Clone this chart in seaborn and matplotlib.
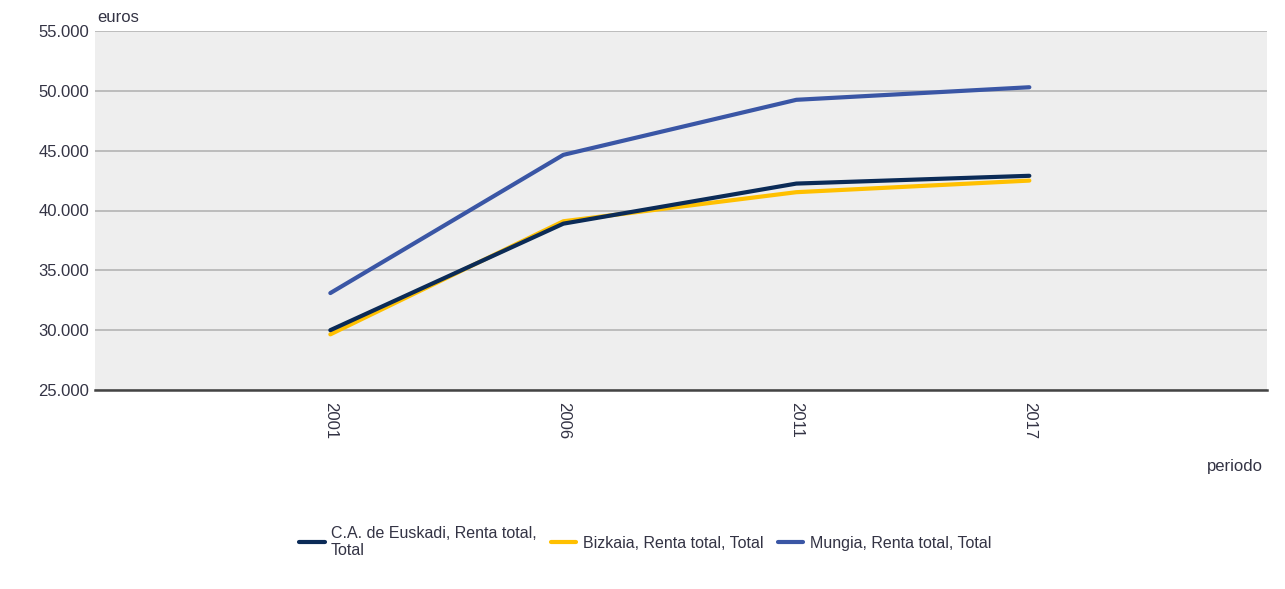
import matplotlib
matplotlib.use("Agg")
import matplotlib.pyplot as plt
import seaborn as sns
import pandas as pd

periods = ["2001", "2006", "2011", "2017"]
euskadi = [30000, 38900, 42250, 42900]
bizkaia = [29650, 39100, 41530, 42500]
mungia = [33100, 44650, 49250, 50300]
series_names = ["C.A. de Euskadi, Renta total,\nTotal",
                "Bizkaia, Renta total, Total",
                "Mungia, Renta total, Total"]
colors = ["#0b2b57", "#ffc000", "#3a56a5"]
yticks = [25000, 30000, 35000, 40000, 45000, 50000, 55000]
ytick_labels = ["25.000", "30.000", "35.000", "40.000", "45.000", "50.000", "55.000"]

rows = []
for name, vals in zip(series_names, [euskadi, bizkaia, mungia]):
    for p, v in zip(periods, vals):
        rows.append({"periodo": p, "euros": v, "serie": name})
df = pd.DataFrame(rows)

sns.set_theme(style="white")
plt.rcParams["font.family"] = ["Liberation Sans", "DejaVu Sans"]

fig = plt.figure(figsize=(12.85, 5.89), dpi=100)
ax = fig.add_axes([95/1285, 1-390/589, (1267-95)/1285, (390-31)/589])
ax.set_facecolor("#eeeeee")

sns.lineplot(data=df, x="periodo", y="euros", hue="serie", palette=colors,
             hue_order=series_names, linewidth=3, ax=ax, legend=False,
             sort=False)
# dark series drawn above the yellow one, as in the reference
ax.lines[0].set_zorder(3)

ax.set_xlim(-1.01, 4.02)
ax.set_ylim(25000, 55000)
ax.set_yticks(yticks)
ax.set_yticklabels(ytick_labels)
ax.yaxis.grid(True, color="#b4b4b4", linewidth=1.2)
ax.set_axisbelow(True)
for s in ["top", "right", "left"]:
    ax.spines[s].set_visible(False)
ax.spines["bottom"].set_color("#444444")
ax.spines["bottom"].set_linewidth(1.8)
ax.tick_params(axis="y", length=0, pad=4, labelsize=12, labelcolor="#333344")
ax.tick_params(axis="x", length=0, pad=9, labelsize=12, labelcolor="#333344")
ax.set_xticks(range(len(periods)))
ax.set_xticklabels(periods, rotation=-90)
ax.set_xlabel("")
ax.set_ylabel("")

fig.text(97/1285, 1-17/589, "euros", fontsize=12, color="#333344", va="center", ha="left")
fig.text(1263/1285, 1-467/589, "periodo", fontsize=12, color="#333344", va="center", ha="right")

from matplotlib.lines import Line2D
handles = [Line2D([0], [0], color=c, linewidth=3) for c in colors]
fig.legend(handles, series_names, loc="center", bbox_to_anchor=(645/1285, 1-542/589),
           ncol=3, frameon=False, fontsize=11.5, handlelength=1.6, handletextpad=0.4,
           columnspacing=0.9, labelcolor="#333344", labelspacing=0.1)

fig.savefig("out.png", dpi=100, facecolor="white")
